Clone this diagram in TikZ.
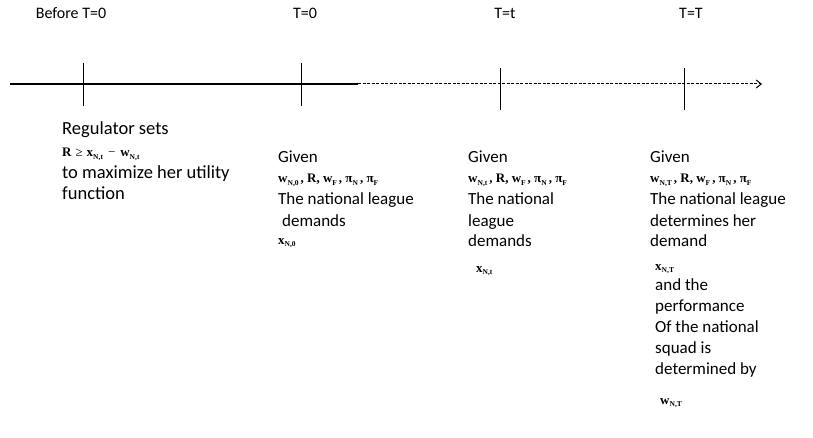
\documentclass[tikz,border=0pt]{standalone}
\usepackage{fontspec}
\setmainfont{Carlito}
\newfontfamily\tnr{Liberation Serif}
\usetikzlibrary{arrows.meta, positioning}
\newcommand{\bsub}[1]{\raisebox{-0.35ex}{\fontsize{7.5}{7.5}\selectfont #1}}
\newcommand{\lines}[1]{\begin{tabular}[t]{@{}l@{}}#1\end{tabular}}
\tikzset{
  txt/.style={anchor=base west, inner sep=0pt,
    font=\fontsize{17}{21}\selectfont},
  bigtxt/.style={txt, font=\fontsize{18.5}{21}\selectfont},
  formula/.style={anchor=base west, inner sep=0pt,
    font=\tnr\bfseries\fontsize{13}{13}\selectfont},
  period/.style={anchor=base, inner sep=0pt, font=\fontsize{16}{19}\selectfont},
  tickline/.style={line width=0.6pt, black},
  axis/.style={line width=1.3pt, black},
  dashaxis/.style={line width=1pt, black, dash pattern=on 3pt off 1.5pt,
    -{Straight Barb[length=5pt, width=8pt, line width=1pt]}}
}
\begin{document}
\begin{tikzpicture}[x=1pt, y=-1pt]
  \useasboundingbox (0,0) rectangle (813,438);

  % Timeline
  \coordinate (start) at (10,84);
  \coordinate (split) at (358,84);
  \coordinate (end) at (762,84);
  \draw[axis] (start) -- (split);
  \draw[dashaxis] (split) -- (end);

  % Ticks
  \coordinate (t1a) at (83,63);  \coordinate (t1b) at (83,106);
  \coordinate (t2a) at (301,63); \coordinate (t2b) at (301,106);
  \coordinate (t3a) at (500,68); \coordinate (t3b) at (500,110);
  \coordinate (t4a) at (684,68); \coordinate (t4b) at (684,110);
  \draw[tickline] (t1a) -- (t1b);
  \draw[tickline] (t2a) -- (t2b);
  \draw[tickline] (t3a) -- (t3b);
  \draw[tickline] (t4a) -- (t4b);

  % Period labels
  \node[period] (before) at (71,19) {Before T=0};
  \node[period] (zero) at (305,19) {T=0};
  \node[period] (mid) at (505,19) {T=t};
  \node[period] (final) at (691,19) {T=T};

  % Before T=0
  \node[bigtxt] (reg) at (62,135) {Regulator sets};
  \node[formula] (regf) at (62,157) {R\hspace{4pt}{\mdseries ≥}\hspace{4pt}x\bsub{N,t}\hspace{5pt}{\mdseries −}\hspace{5pt}w\bsub{N,t}};
  \node[bigtxt] (regu) at (62,179) {\lines{to maximize her\hspace{4pt}utility\\function}};

  % T=0
  \node[txt] (giv0) at (278,163) {Given};
  \node[formula] (giv0f) at (278,183) {w\bsub{N,0}\hspace{2pt}, R, w\bsub{F}\hspace{2pt}, π\bsub{N}\hspace{2pt}, π\bsub{F}};
  \node[txt] (dem0) at (278,205) {\lines{The national league\\\hspace{4pt}demands}};
  \node[formula] (x0) at (278,244) {x\bsub{N,0}};

  % T=t
  \node[txt] (givt) at (468,163) {Given};
  \node[formula] (givtf) at (468,183) {w\bsub{N,t}\hspace{2pt}, R, w\bsub{F}\hspace{2pt}, π\bsub{N}\hspace{2pt}, π\bsub{F}};
  \node[txt] (demt) at (468,205) {\lines{The national\\league\\demands}};
  \node[formula] (xt) at (476,272) {x\bsub{N,t}};

  % T=T
  \node[txt] (givT) at (650,163) {Given};
  \node[formula] (givTf) at (650,183) {w\bsub{N,T}\hspace{2pt}, R, w\bsub{F}\hspace{2pt}, π\bsub{N}\hspace{2pt}, π\bsub{F}};
  \node[txt] (demT) at (650,205) {\lines{The national league\\determines her\\demand}};
  \node[formula] (xT) at (655,270) {x\bsub{N,T}};
  \node[txt] (perf) at (655,290) {\lines{and the\\performance\\Of the national\\squad is\\determined by}};
  \node[formula] (wT) at (660,404) {w\bsub{N,T}};
\end{tikzpicture}
\end{document}
